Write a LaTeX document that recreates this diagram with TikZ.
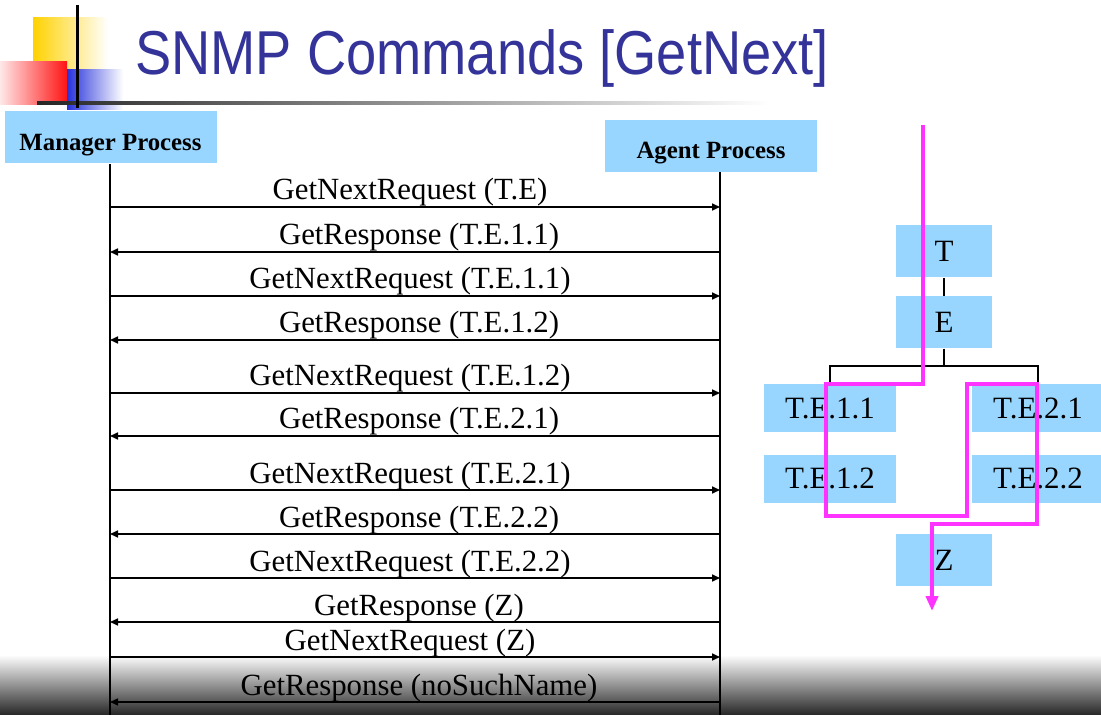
\documentclass[tikz,border=0pt]{standalone}
\usepackage{fontspec}
\setmainfont{Liberation Serif}
\newfontfamily\titlefont{Liberation Sans}
\usetikzlibrary{arrows.meta,positioning}

\definecolor{boxblue}{RGB}{153,214,255}
\definecolor{titleblue}{RGB}{51,51,153}
\definecolor{walkpink}{RGB}{255,51,255}
\definecolor{logoyellow}{RGB}{255,210,0}
\definecolor{logored}{RGB}{255,20,20}
\definecolor{logoblue}{RGB}{40,50,220}

\begin{document}
\begin{tikzpicture}[x=0.5pt, y=-0.5pt, >=Triangle,
    proc/.style={fill=boxblue, font=\bfseries\fontsize{12.4}{14}\selectfont, minimum width=106pt, minimum height=26pt, text height=13pt, text depth=0pt, inner sep=0pt},
    tbox/.style={fill=boxblue, font=\fontsize{15.5}{18}\selectfont, minimum width=48pt, minimum height=26pt, inner sep=0pt},
    leaf/.style={tbox, minimum width=66pt, minimum height=24pt},
    msg/.style={line width=0.8pt, -{Triangle[length=4pt,width=3.5pt]}},
    lbl/.style={font=\fontsize{15.4}{18}\selectfont, anchor=base, yshift=3.5pt, inner sep=0pt},
    rq/.style={lbl, xshift=-2.5pt},
    rs/.style={lbl, xshift=2pt},
    life/.style={line width=0.8pt},
    twig/.style={line width=0.6pt},
    walk/.style={draw=walkpink, line width=2pt, -{Triangle[length=7.5pt,width=6pt]}}]
  \useasboundingbox (0,0) rectangle (1101,715);
  \fill[white] (0,0) rectangle (1101,715);
  % --- bottom shade ---
  \shade[top color=white, middle color=black!35, bottom color=black!85] (0,655) rectangle (1101,715);
  % --- title logo ---
  \shade[left color=logoyellow, middle color=logoyellow, right color=white] (33,18) rectangle (108,75);
  \shade[left color=logored!10, middle color=logored!60, right color=logored] (0,62) rectangle (67,105);
  \shade[left color=logoblue, middle color=logoblue, right color=white] (67,70) rectangle (123,110);
  \shade[left color=black!85, right color=white] (37,101.5) rectangle (770,104.5);
  \draw[line width=1.5pt] (77,5) -- (77,108);
  \node[anchor=base west, text=titleblue, font=\titlefont\fontsize{31}{36}\selectfont, inner sep=0pt] (title) at (135,75) {\scalebox{0.875}[1]{SNMP Commands [GetNext]}};
  % --- processes ---
  \node[proc] (mgr) at (110.5,137.5) {Manager Process};
  \node[proc] (agt) at (711,146) {Agent Process};
  \coordinate (mline) at (110,0);
  \coordinate (aline) at (720,0);
  \coordinate (mend) at (110,715);
  \coordinate (aend) at (720,715);
  \draw[life] (mline |- mgr.south) -- (mend);
  \draw[life] (aline |- agt.south) -- (aend);
  % --- messages ---
  \draw[msg] (mline |- 0,207) -- node[rq] {GetNextRequest (T.E)} (aline |- 0,207);
  \draw[msg] (aline |- 0,252) -- node[rs] {GetResponse (T.E.1.1)} (mline |- 0,252);
  \draw[msg] (mline |- 0,296) -- node[rq] {GetNextRequest (T.E.1.1)} (aline |- 0,296);
  \draw[msg] (aline |- 0,340) -- node[rs] {GetResponse (T.E.1.2)} (mline |- 0,340);
  \draw[msg] (mline |- 0,393) -- node[rq] {GetNextRequest (T.E.1.2)} (aline |- 0,393);
  \draw[msg] (aline |- 0,436) -- node[rs] {GetResponse (T.E.2.1)} (mline |- 0,436);
  \draw[msg] (mline |- 0,490) -- node[rq] {GetNextRequest (T.E.2.1)} (aline |- 0,490);
  \draw[msg] (aline |- 0,534) -- node[rs] {GetResponse (T.E.2.2)} (mline |- 0,534);
  \draw[msg] (mline |- 0,578) -- node[rq] {GetNextRequest (T.E.2.2)} (aline |- 0,578);
  \draw[msg] (aline |- 0,622) -- node[rs] {GetResponse (Z)} (mline |- 0,622);
  \draw[msg] (mline |- 0,657) -- node[rq] {GetNextRequest (Z)} (aline |- 0,657);
  \draw[msg] (aline |- 0,702) -- node[rs] {GetResponse (noSuchName)} (mline |- 0,702);
  % --- MIB tree ---
  \node[tbox] (T) at (944,251.5) {T};
  \node[tbox, below=9pt of T] (E) {E};
  \node[leaf] (te11) at (830,408) {T.E.1.1};
  \node[leaf, below=11pt of te11] (te12) {T.E.1.2};
  \node[leaf] (te21) at (1038,408) {T.E.2.1};
  \node[leaf, below=11pt of te21] (te22) {T.E.2.2};
  \node[tbox] (Z) at (944,560) {Z};
  \coordinate (fork) at (944,366);
  \draw[twig] (T) -- (E);
  \draw[twig] (E) -- (fork);
  \draw[twig] (te11.north) |- (fork) -| (te21.north);
  % --- walk order ---
  \coordinate (w0) at (923,125);
  \coordinate (wend) at (932,611);
  \draw[walk] (w0) |- (826,384) |- (967,516) |- (1037,384) |- (932,524) -- (wend);
\end{tikzpicture}
\end{document}
